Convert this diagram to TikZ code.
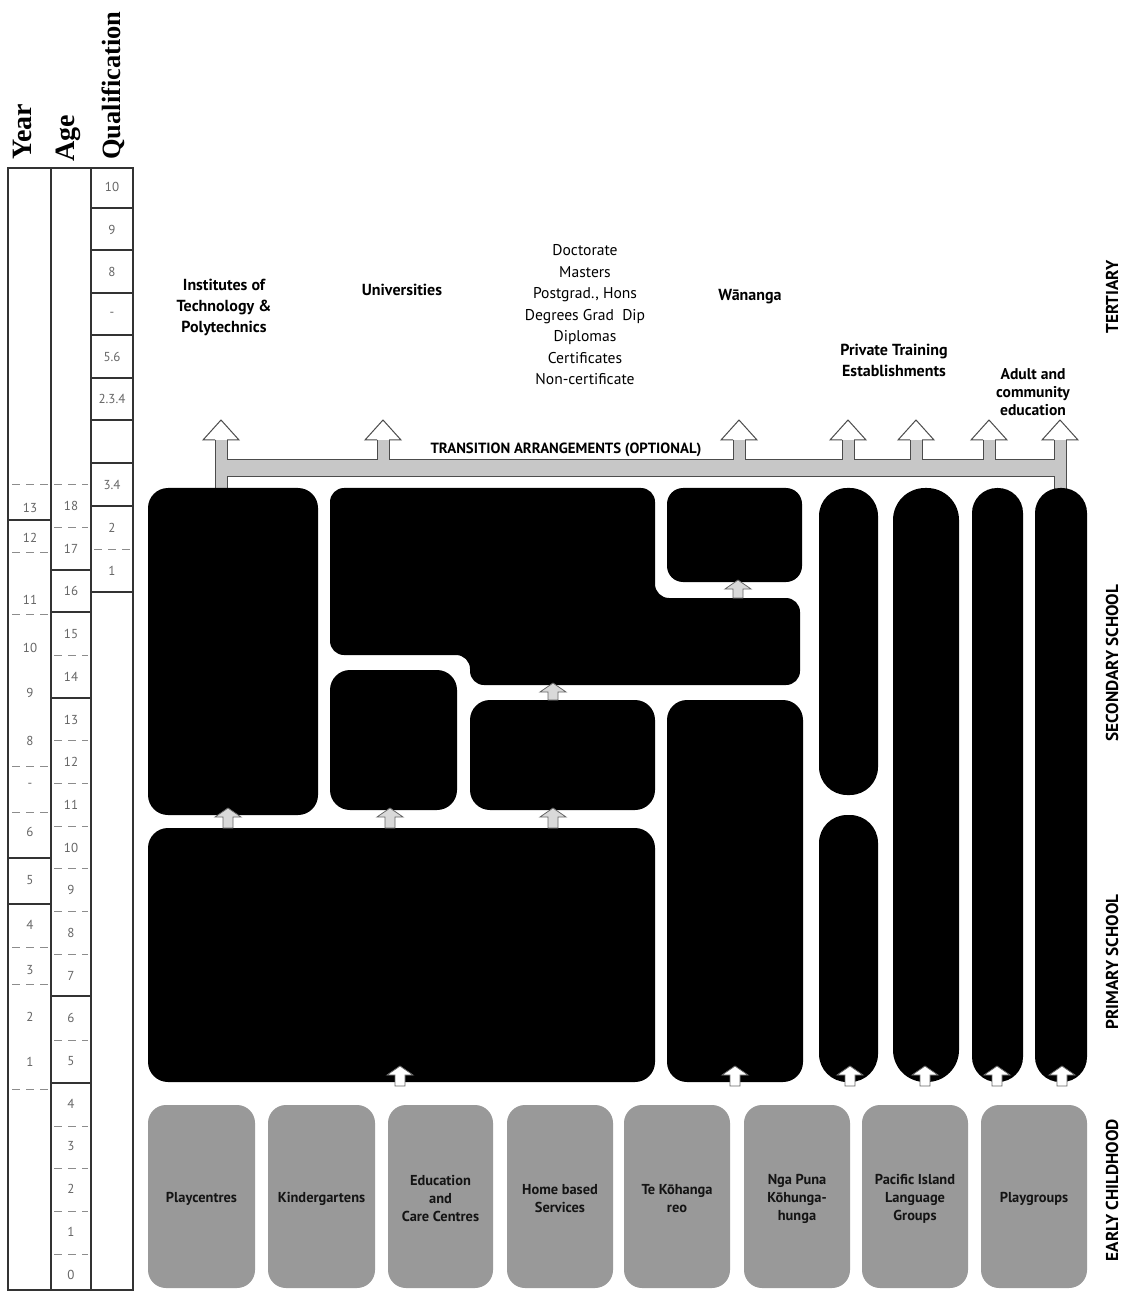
\documentclass[tikz,border=0pt]{standalone}
\usepackage{fontspec}
\setmainfont{Liberation Serif}
\newfontfamily\labfont{PT Sans}
\usetikzlibrary{fit}
\newcommand\blockarr[4]{% x, tip y, base y, fill
  \filldraw[fill=#4,draw=black!60,line width=0.4pt]
    (#1,#2) -- (#1+13,#2+9) -- (#1+5,#2+9) -- (#1+5,#3) -- (#1-5,#3)
    -- (#1-5,#2+9) -- (#1-13,#2+9) -- cycle;}
\begin{document}
\begin{tikzpicture}[x=0.5pt,y=-0.5pt,
  blk/.style={fill=black,draw=none,inner sep=0pt,rounded corners=#1},
  blk/.default=10pt,
  ecbox/.style={fill=black!40,draw=none,inner sep=0pt,rounded corners=9pt},
  ectext/.style={font=\labfont\bfseries\fontsize{7.2}{9}\selectfont,align=center,text=black!92,inner sep=0pt},
  head/.style={font=\bfseries\fontsize{14}{15}\selectfont,rotate=90,anchor=west,inner sep=0pt},
  num/.style={font=\labfont\fontsize{6.5}{7}\selectfont,text=black!60,inner sep=0pt},
  tlab/.style={font=\labfont\bfseries\fontsize{8}{10.5}\selectfont,align=center,inner sep=0pt},
  tlist/.style={font=\labfont\fontsize{7.8}{10.75}\selectfont,align=center,inner sep=0pt},
  side/.style={font=\labfont\bfseries\fontsize{8.6}{9}\selectfont,rotate=90,inner sep=0pt},
  col/.style={draw=black!80,line width=0.6pt},
  dsh/.style={draw=black!45,line width=0.5pt,dash pattern=on 4pt off 3pt},
  stip/.style={fill=black!22,draw=black!70,line width=0.5pt},
]
\fill[white] (0,0) rectangle (1128,1293);
\useasboundingbox (0,0) rectangle (1128,1293);

% ---------- left columns ----------
\node[head] (year) at (22,160) {Year};
\node[head] (age) at (68,162) {Age};
\node[head,font=\bfseries\fontsize{13.2}{14}\selectfont] (qual) at (113,160) {Qualification};

\draw[col] (8,168) rectangle (51,1290);
\draw[col] (51,168) rectangle (91,1290);
\draw[col] (91,168) rectangle (133,1290);

\foreach \y in {520,858,904} \draw[col] (8,\y) -- (51,\y);
\foreach \y in {485,552,614,766,812,947,984,1089} \draw[dsh] (12,\y) -- (48,\y);
\foreach \y in {570,612,698,996,1083} \draw[col] (51,\y) -- (91,\y);
\foreach \y in {485,527,655,740,783,826,868,911,954,1040,1126,1168,1211,1254} \draw[dsh] (54,\y) -- (88,\y);
\foreach \y in {208,250,293,335,378,420,463,506,592} \draw[col] (91,\y) -- (133,\y);
\draw[dsh] (94,549) -- (130,549);

\foreach \q/\y [count=\i] in {13/508,12/538,11/600,10/648,9/693,8/741,-/785,6/832,5/880,4/925,3/970,2/1017,1/1062}
  \node[num] (yr\i) at (30,\y) {\q};
\foreach \a in {0,...,18}
  \node[num] (ag\a) at (71,{506+(18-\a)*42.7}) {\a};
\foreach \q/\y [count=\i] in {10/186.5,9/229.5,8/272,-/314,5.6/356.5,2.3.4/399,3.4/484.5,2/527.5,1/570.5}
  \node[num] (ql\i) at (112,\y) {\q};

% ---------- tertiary labels ----------
\node[tlab] (itp) at (224,307) {Institutes of\\Technology \&\\Polytechnics};
\node[tlab] (uni) at (402,290) {Universities};
\node[tlist] (quals) at (585,315) {Doctorate\\Masters\\Postgrad., Hons\\Degrees Grad\ \ Dip\\Diplomas\\Certificates\\Non-certificate};
\node[tlab] (wan) at (750,297) {Wānanga};
\node[tlab] (pte) at (894,360) {Private Training\\Establishments};
\node[tlab,font=\labfont\bfseries\fontsize{7.8}{9}\selectfont] (ace) at (1033,392) {Adult and\\community\\education};

% ---------- transition arrangements ----------
\filldraw[stip] (215,440) -- (227,440) -- (227,460)
  \foreach \c in {383,739,848,916,989} { -- (\c-6,460) -- (\c-6,440) -- (\c+6,440) -- (\c+6,460) }
  -- (1054,460) -- (1054,440) -- (1066,440) -- (1066,490) -- (1054,490) -- (1054,477)
  -- (227,477) -- (227,490) -- (215,490) -- cycle;
\foreach \c in {221,383,739,848,916,989,1060} {
  \fill[white] (\c-18,440) -- (\c,420) -- (\c+18,440) -- cycle;
  \draw[black!70,line width=0.5pt] (\c-6,440) -- (\c-18,440) -- (\c,420) -- (\c+18,440) -- (\c+6,440);
}
\node[font=\labfont\bfseries\fontsize{7.4}{8}\selectfont,inner sep=0pt,anchor=south] (trans) at (566,457) {TRANSITION ARRANGEMENTS (OPTIONAL)};

% ---------- secondary / primary blocks ----------
\node[blk,fit={(148,488) (318,815)}] (inst) {};
\fill[black,rounded corners=7pt] (330,488) -- (655,488) -- (655,598) -- (800,598) -- (800,685)
  -- (470,685) -- (470,655) -- (330,655) -- cycle;
\coordinate (univ) at (492,570);
\node[blk,fit={(330,670) (457,810)}] (uni2) {};
\node[blk,fit={(470,700) (655,810)}] (mid) {};
\node[blk=8pt,fit={(667,488) (802,582)}] (wan1) {};
\node[blk,fit={(667,700) (803,1082)}] (wan2) {};
\node[blk=14pt,fit={(819,488) (878,795)}] (pte1) {};
\node[blk=14pt,fit={(819,815) (878,1082)}] (pte2) {};
\node[blk=16pt,fit={(893,488) (959,1082)}] (pte3) {};
\node[blk=12.5pt,fit={(972,488) (1023,1082)}] (ace1) {};
\node[blk=12.5pt,fit={(1035,488) (1087,1082)}] (ace2) {};
\node[blk,fit={(148,828) (655,1082)}] (prim) {};

% small arrows between blocks
\blockarr{228}{808}{828}{black!15}
\blockarr{390}{808}{828}{black!15}
\blockarr{553}{808}{828}{black!15}
\blockarr{553}{683}{700}{black!15}
\blockarr{738}{580}{598}{black!15}
\foreach \c in {400,735,850,925,997,1062} { \blockarr{\c}{1066}{1086}{white} }

% ---------- early childhood ----------
\foreach \a/\b/\t [count=\i] in {
  148/255/{Playcentres},
  268/375/{Kindergartens},
  388/493/{Education\\and\\Care Centres},
  507/613/{Home based\\Services},
  624/730/{Te Kōhanga\\reo},
  744/850/{Nga Puna\\Kōhunga-\\hunga},
  862/968/{Pacific Island\\Language\\Groups},
  981/1087/{Playgroups}} {
  \node[ecbox,fit={(\a,1105) (\b,1288)}] (ec\i) {};
  \node[ectext] (ect\i) at ([yshift=-1pt]ec\i.center) {\t};
}

% ---------- side labels ----------
\node[side] (ter) at (1112,297) {TERTIARY};
\node[side] (sec) at (1112,663) {SECONDARY SCHOOL};
\node[side] (pri) at (1112,962) {PRIMARY SCHOOL};
\node[side] (ech) at (1112,1190) {EARLY CHILDHOOD};
\end{tikzpicture}
\end{document}
